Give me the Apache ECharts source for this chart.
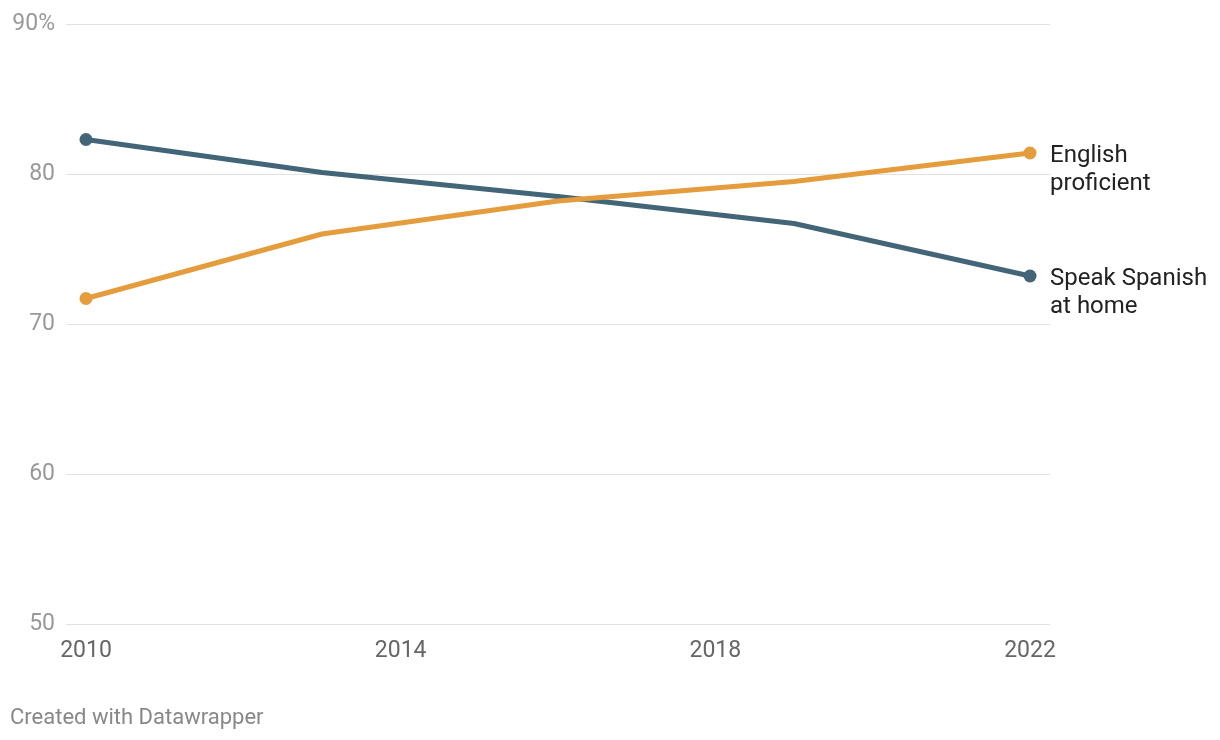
<!DOCTYPE html>
<html>
<head>
<meta charset="utf-8">
<script src="https://cdn.jsdelivr.net/npm/echarts@6/dist/echarts.min.js"></script>
<style>
html,body{margin:0;padding:0;background:#fff;}
#chart{width:1220px;height:740px;}
</style>
</head>
<body>
<div id="chart"></div>
<script>
const years = [2010, 2013, 2016, 2019, 2022];
const speakSpanish = [82.3, 80.1, 78.5, 76.7, 73.2];
const englishProficient = [71.7, 76.0, 78.2, 79.5, 81.4];
const xTicks = [2010, 2014, 2018, 2022];
const yTicks = [50, 60, 70, 80, 90];
const seriesNames = ['Speak Spanish\nat home', 'English\nproficient'];

const chart = echarts.init(document.getElementById('chart'));
const font = 'Roboto, "Noto Sans", sans-serif';
function mk(name, vals, color) {
  return {
    type: 'line',
    name: name,
    data: years.map((y, i) => ({
      value: [y, vals[i]],
      symbolSize: (i === 0 || i === years.length - 1) ? 13 : 0
    })),
    lineStyle: {width: 5, color: color},
    itemStyle: {color: color},
    symbol: 'circle',
    showSymbol: true,
    showAllSymbol: true,
    silent: true,
    animation: false,
    label: {show: false},
    endLabel: {
      show: true,
      formatter: name,
      color: '#222',
      fontFamily: font,
      fontSize: 24,
      lineHeight: 28,
      distance: 20,
      offset: [0, 16.5]
    }
  };
}
chart.setOption({
  animation: false,
  grid: {left: 66, right: 170, top: 24, bottom: 116, containLabel: false},
  xAxis: {
    type: 'value',
    min: 2009.746,
    max: 2022.254,
    axisLine: {show: false},
    axisTick: {show: false},
    splitLine: {show: false},
    axisLabel: {
      customValues: xTicks,
      color: '#666',
      fontFamily: font,
      fontSize: 23,
      margin: 16,
      formatter: v => String(v)
    }
  },
  yAxis: {
    type: 'value',
    min: 50,
    max: 90,
    interval: 10,
    axisLine: {show: false},
    axisTick: {show: false},
    splitLine: {lineStyle: {color: '#e2e2e2', width: 1}},
    axisLabel: {
      customValues: yTicks,
      color: '#999',
      fontFamily: font,
      fontSize: 23,
      margin: 11,
      formatter: v => v === 90 ? '90%' : String(v)
    }
  },
  series: [
    mk(seriesNames[0], speakSpanish, '#436578'),
    mk(seriesNames[1], englishProficient, '#e59c3c')
  ],
  graphic: [{
    type: 'text',
    left: 10,
    top: 707,
    style: {text: 'Created with Datawrapper', fill: '#888', font: '22px ' + font}
  }]
});
</script>
</body>
</html>
